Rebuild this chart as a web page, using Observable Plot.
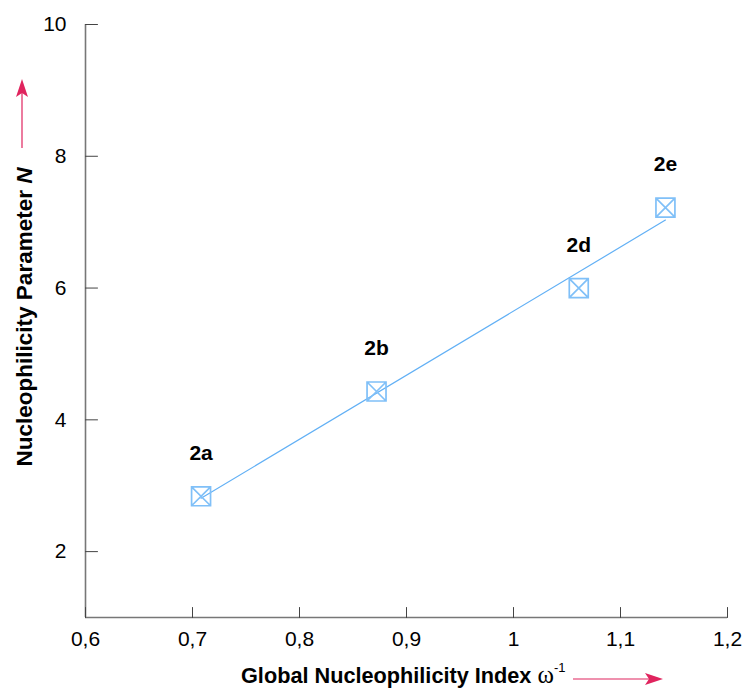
<!DOCTYPE html>
<html><head><meta charset="utf-8">
<script src="https://cdn.jsdelivr.net/npm/d3@7"></script>
<script src="https://cdn.jsdelivr.net/npm/@observablehq/plot@0.6"></script>
<style>body{margin:0;background:#fff}</style>
</head><body><div id="chart"></div>
<script>
const compounds = ["2a", "2b", "2d", "2e"];
const omegaInv = [0.708, 0.872, 1.061, 1.142];
const nucleophilicityN = [2.84, 4.43, 6.00, 7.22];
const xTicks = [0.6, 0.7, 0.8, 0.9, 1.0, 1.1, 1.2];
const xTickLabels = ["0,6", "0,7", "0,8", "0,9", "1", "1,1", "1,2"];
const yTicks = [2, 4, 6, 8, 10];
const yTickLabels = ["2", "4", "6", "8", "10"];

const data = compounds.map((c, i) => ({name: c, x: omegaInv[i], y: nucleophilicityN[i]}));

const boxX = {draw(ctx, size) {
  const r = Math.sqrt(size) / 2;
  ctx.moveTo(-r, -r); ctx.lineTo(r, -r); ctx.lineTo(r, r); ctx.lineTo(-r, r); ctx.closePath();
  ctx.moveTo(-r, -r); ctx.lineTo(r, r);
  ctx.moveTo(r, -r); ctx.lineTo(-r, r);
}};
const tickShape = {draw(ctx, l) { ctx.moveTo(0, 0); ctx.lineTo(0, -l); }};

const font = "'Liberation Sans', Arial, Helvetica, sans-serif";

const chart = Plot.plot({
  width: 747, height: 688,
  marginLeft: 85, marginRight: 20, marginTop: 24, marginBottom: 71,
  x: {domain: [0.6, 1.2]},
  y: {domain: [1, 10]},
  style: {fontFamily: font, fontSize: "20px", color: "#000", background: "#fff"},
  marks: [
    Plot.axisX(xTicks, {tickSize: 0, tickPadding: 14, fontSize: 21, fill: "#000",
      tickFormat: d => xTickLabels[xTicks.indexOf(d)], label: null}),
    Plot.axisY(yTicks, {tickSize: 0, tickPadding: 19, fontSize: 21, fill: "#000",
      tickFormat: d => yTickLabels[yTicks.indexOf(d)], label: null}),
    Plot.ruleY([1], {stroke: "#777", strokeWidth: 1.6}),
    Plot.ruleX([0.6], {stroke: "#777", strokeWidth: 1.6}),
    Plot.vector(xTicks, {x: d => d, y: 1, length: 10, rotate: 0, anchor: "start",
      shape: tickShape, stroke: "#444", strokeWidth: 1}),
    Plot.vector(yTicks, {x: 0.6, y: d => d, length: 12, rotate: 90, anchor: "start",
      shape: tickShape, stroke: "#444", strokeWidth: 1}),
    Plot.linearRegressionY(data, {x: "x", y: "y", ci: 0, stroke: "#62b0f5", strokeWidth: 1.2}),
    Plot.dot(data, {x: "x", y: "y", symbol: boxX, r: 10.7, stroke: "#80c0f8",
      strokeWidth: 1.7, fill: "none"}),
    Plot.text(data, {x: "x", y: "y", text: "name", dy: -43, fontWeight: "bold",
      fontSize: 21, fill: "#000"})
  ]
});
document.getElementById("chart").appendChild(chart);

const svg = d3.select(chart);
const accent = "#e0245e";

// x-axis title
const xt = svg.append("text")
  .attr("x", 241).attr("y", 683).attr("text-anchor", "start")
  .attr("font-family", font).attr("font-size", 21.7).attr("fill", "#000");
xt.append("tspan").attr("font-weight", "bold").text("Global Nucleophilicity Index ");
xt.append("tspan").attr("font-family", "'Liberation Serif', 'DejaVu Serif', serif").attr("font-size", 25).text("ω");
xt.append("tspan").attr("font-size", 13).attr("dy", -11).text("-1");

// y-axis title
const yt = svg.append("text")
  .attr("transform", "translate(32,317) rotate(-90)")
  .attr("text-anchor", "middle")
  .attr("font-family", font).attr("font-size", 22.5).attr("font-weight", "bold").attr("fill", "#000");
yt.append("tspan").text("Nucleophilicity Parameter ");
yt.append("tspan").attr("font-style", "italic").text("N");

// arrows
svg.append("line").attr("x1", 573).attr("y1", 679).attr("x2", 652).attr("y2", 679)
  .attr("stroke", accent).attr("stroke-width", 1.2);
svg.append("path").attr("d", "M663,679 L645,673 L649,679 L645,685 Z").attr("fill", accent);
svg.append("line").attr("x1", 22).attr("y1", 148).attr("x2", 22).attr("y2", 90)
  .attr("stroke", accent).attr("stroke-width", 1.2);
svg.append("path").attr("d", "M22,79 L16,97 L22,93 L28,97 Z").attr("fill", accent);
</script>
</body></html>
